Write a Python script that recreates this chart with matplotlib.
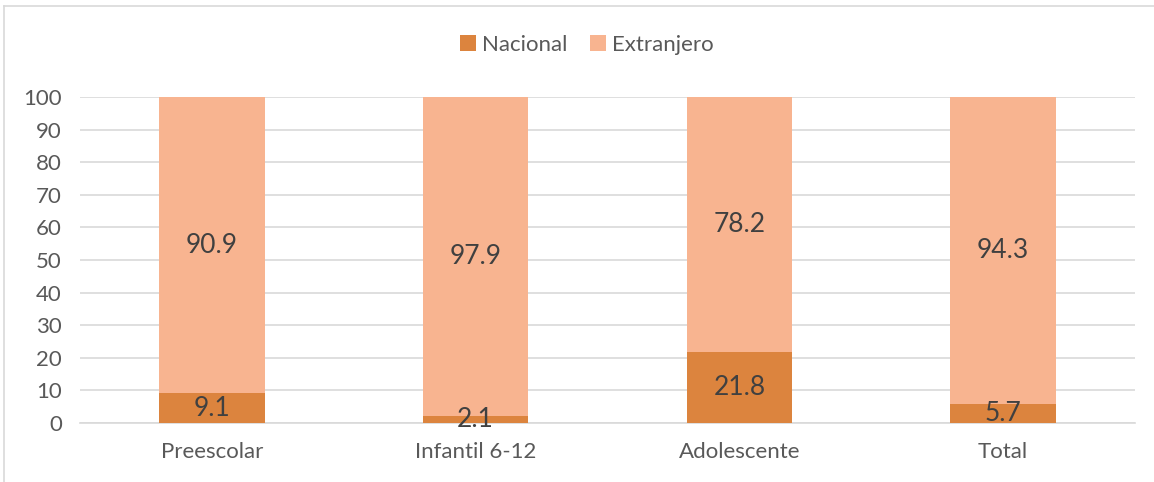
import matplotlib
matplotlib.use("Agg")
import matplotlib.pyplot as plt
import numpy as np

# data
categorias = ['Preescolar', 'Infantil 6-12', 'Adolescente', 'Total']
nacional = [9.1, 2.1, 21.8, 5.7]
extranjero = [90.9, 97.9, 78.2, 94.3]

col_nac = '#DC843E'
col_ext = '#F8B490'
col_txt = '#595959'

plt.rcParams['font.family'] = ['Lato', 'DejaVu Sans']

fig = plt.figure(figsize=(11.54, 4.82), dpi=100)
ax = fig.add_axes([80/1154, 1-423/482, 1055/1154, 326/482])

x = np.arange(len(categorias))
b1 = ax.bar(x, nacional, width=0.4, color=col_nac, label='Nacional', zorder=3)
b2 = ax.bar(x, extranjero, width=0.4, bottom=nacional, color=col_ext,
            label='Extranjero', zorder=3)

for rect, v in zip(b1, nacional):
    ax.text(rect.get_x() + rect.get_width()/2, v/2, '%.1f' % v,
            ha='center', va='center', fontsize=19, color='#404040', zorder=4)
for rect, v, b in zip(b2, extranjero, nacional):
    ax.text(rect.get_x() + rect.get_width()/2, b + v/2, '%.1f' % v,
            ha='center', va='center', fontsize=19, color='#404040', zorder=4)

ax.set_xlim(-0.5, 3.5)
ax.set_ylim(0, 100)
ax.set_yticks(np.arange(0, 101, 10))
ax.set_xticks(x)
ax.set_xticklabels(categorias)
ax.tick_params(axis='both', length=0, labelsize=16, colors=col_txt)
ax.tick_params(axis='x', pad=14)
ax.tick_params(axis='y', pad=13)
ax.grid(axis='y', color='#D9D9D9', linewidth=1.2, zorder=0)
for s in ['top', 'right', 'left']:
    ax.spines[s].set_visible(False)
ax.spines['bottom'].set_color('#D9D9D9')
ax.spines['bottom'].set_linewidth(1.2)

fig.legend(loc='center', bbox_to_anchor=(0.5 + 10/1154, 1-45/482), ncol=2, frameon=False,
           fontsize=16, labelcolor=col_txt, handlelength=0.7, handleheight=0.7,
           handletextpad=0.3, columnspacing=1.0)

# outer frame (left and top edges visible)
fig.add_artist(plt.Line2D([4/1154, 4/1154], [0, 1-6/482], color='#D9D9D9',
                          lw=1.2, transform=fig.transFigure))
fig.add_artist(plt.Line2D([4/1154, 1], [1-6/482, 1-6/482], color='#D9D9D9',
                          lw=1.2, transform=fig.transFigure))

fig.savefig('out.png', dpi=100)
